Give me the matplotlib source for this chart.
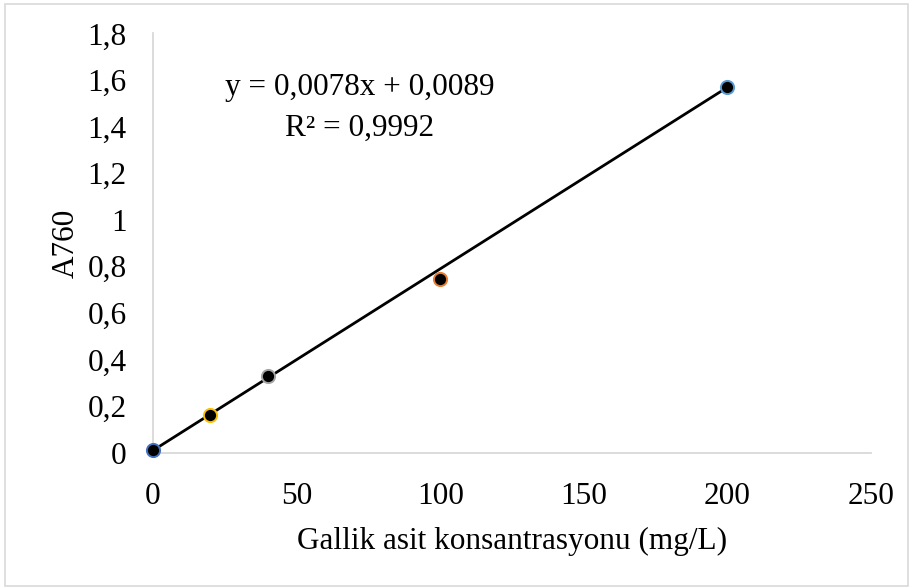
import matplotlib
matplotlib.use('Agg')
import matplotlib.pyplot as plt
from matplotlib.patches import Rectangle

# data
conc = [0, 20, 40, 100, 200]
absorb = [0.01, 0.161, 0.33, 0.745, 1.569]
edge_colors = ['#4472C4', '#FFC000', '#A5A5A5', '#ED7D31', '#5B9BD5']
slope, intercept = 0.0078, 0.0089
x_ticks = [0, 50, 100, 150, 200, 250]
y_ticks = [0, 0.2, 0.4, 0.6, 0.8, 1.0, 1.2, 1.4, 1.6, 1.8]
y_labels = ['0', '0,2', '0,4', '0,6', '0,8', '1', '1,2', '1,4', '1,6', '1,8']

plt.rcParams['font.family'] = ['Liberation Serif', 'DejaVu Serif']
fs = 22.5

W, H = 913, 588
fig = plt.figure(figsize=(W / 100, H / 100), dpi=100)
ax = fig.add_axes([153 / W, 1 - 452.5 / H, (871 - 153) / W, (452.5 - 33.5) / H])

# outer chart border
fig.patches.append(Rectangle((5 / W, 2 / H), 903 / W, 582 / H, transform=fig.transFigure,
                             fill=False, edgecolor='#d9d9d9', linewidth=1.2))

# trendline
xs = [conc[0], conc[-1]]
ax.plot(xs, [slope * v + intercept for v in xs], color='black', linewidth=2, zorder=2)

for x, y, c in zip(conc, absorb, edge_colors):
    ax.plot(x, y, 'o', markersize=9.5, markerfacecolor='black', markeredgecolor=c,
            markeredgewidth=1.4, zorder=3, clip_on=False)

ax.set_xlim(0, 250)
ax.set_ylim(0, 1.8)
ax.set_xticks(x_ticks)
ax.set_xticklabels([str(v) for v in x_ticks])
ax.set_yticks(y_ticks)
ax.set_yticklabels(y_labels)
ax.tick_params(length=0, labelsize=fs)
ax.tick_params(axis='y', pad=19)
ax.tick_params(axis='x', pad=21)

for s in ['top', 'right']:
    ax.spines[s].set_visible(False)
for s in ['left', 'bottom']:
    ax.spines[s].set_color('#d9d9d9')
    ax.spines[s].set_linewidth(1.3)

ax.set_xlabel('Gallik asit konsantrasyonu (mg/L)', fontsize=fs, labelpad=12)
ax.set_ylabel('A760', fontsize=fs, labelpad=5)

ax.text(72, 1.566, 'y = 0,0078x + 0,0089', fontsize=fs, ha='center', va='center')
ax.text(72, 1.394, 'R² = 0,9992', fontsize=fs, ha='center', va='center')

fig.savefig('out.png', dpi=100)
